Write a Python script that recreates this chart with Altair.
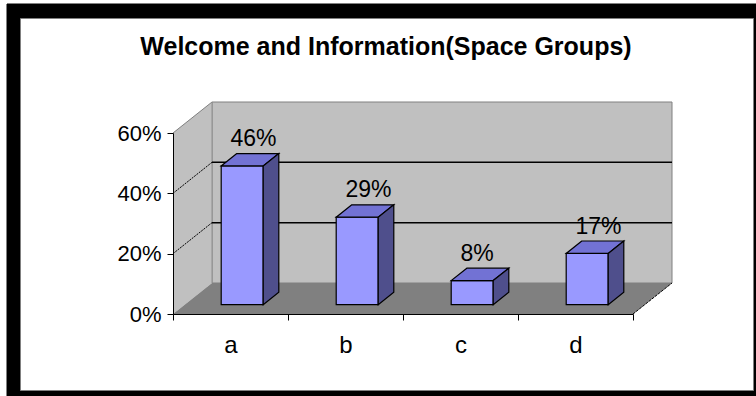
import altair as alt
import pandas as pd

# ---------------- data ----------------
categories = ["a", "b", "c", "d"]
values = [46, 29, 8, 17]            # percent
y_ticks = [0, 20, 40, 60]
grid_levels = [20, 40]
title_text = "Welcome and Information(Space Groups)"

# ---------------- geometry (data units) ----------------
N = len(categories)
Y_MAX = 60
PX_U = 115.0                 # pixels per category
PX_V = 181.0 / 60            # pixels per percent
DU = 39 / PX_U               # full depth, x shift
DV = 31 / PX_V               # full depth, y shift
BW = 42 / PX_U               # bar width
F0, F1 = 0.3, 0.7            # bar depth span
LABEL_GAP = 7.5 / PX_V

FONT = "Liberation Sans"


def U(px):
    return (px - 173) / PX_U


def V(py):
    return (314 - py) / PX_V


# frame (outer border)
frame = pd.DataFrame([
    {"x": U(7), "x2": U(770), "y": V(4), "y2": V(410), "f": "#000000", "s": "#000000"},
    {"x": U(20.5), "x2": U(753.5), "y": V(18.5), "y2": V(390.5), "f": "#ffffff", "s": "#808080"},
])

back_wall = pd.DataFrame([{"x": DU, "x2": N + DU, "y": DV, "y2": Y_MAX + DV}])
side_wall = pd.DataFrame([
    {"x": 0, "y": Y_MAX, "y2": 0},
    {"x": DU, "y": Y_MAX + DV, "y2": DV},
])
floor = pd.DataFrame([
    {"y": 0, "x": 0, "x2": N},
    {"y": DV, "x": DU, "x2": N + DU},
])
side_top = pd.DataFrame([{"x": 0, "y": Y_MAX}, {"x": DU, "y": Y_MAX + DV}])
back_left = pd.DataFrame([{"x": DU, "y": DV, "y2": Y_MAX + DV}])

grid_back = pd.DataFrame([{"x": DU, "x2": N + DU, "y": g + DV} for g in grid_levels])
grid_side = pd.DataFrame(
    [{"g": g, "x": 0, "y": g} for g in grid_levels]
    + [{"g": g, "x": DU, "y": g + DV} for g in grid_levels]
)
floor_edge = pd.DataFrame([{"x": N, "y": 0}, {"x": N + DU, "y": DV}])

fronts, tops, sides, labels = [], [], [], []
for i, (c, v) in enumerate(zip(categories, values)):
    xl = i + 0.5 - BW / 2 + F0 * DU
    xr = xl + BW
    ddu = (F1 - F0) * DU
    ddv = (F1 - F0) * DV
    yb = F0 * DV
    yt = v + F0 * DV
    fronts.append({"c": c, "x": xl, "x2": xr, "y": yb, "y2": yt})
    tops.append({"c": c, "y": yt, "x": xl, "x2": xr})
    tops.append({"c": c, "y": yt + ddv, "x": xl + ddu, "x2": xr + ddu})
    sides.append({"c": c, "x": xr, "y": yt, "y2": yb})
    sides.append({"c": c, "x": xr + ddu, "y": yt + ddv, "y2": yb + ddv})
    labels.append({"c": c, "x": i + 0.5, "y": v + F1 * DV + LABEL_GAP,
                   "t": f"{v}%"})

fronts = pd.DataFrame(fronts)
tops = pd.DataFrame(tops)
sides = pd.DataFrame(sides)
labels = pd.DataFrame(labels)

XS = alt.Scale(domain=[0, N], nice=False, zero=False)
YS = alt.Scale(domain=[0, Y_MAX], nice=False, zero=False)

label_expr = " : ".join(
    f"datum.value === {i + 0.5} ? '{c}'" for i, c in enumerate(categories)
) + " : ''"

x_axis = alt.Axis(
    values=[k * 0.5 for k in range(2 * N + 1)],
    labelExpr=label_expr,
    tickOpacity={"condition": {"test": "datum.value % 1 === 0", "value": 1}, "value": 0},
    tickSize=6, tickColor="#000000", domainColor="#000000",
    labelFont=FONT, labelFontSize=24, labelColor="#000000",
    labelBaseline="alphabetic", labelPadding=32,
    labelOverlap=False, labelFlush=False,
    title=None, grid=False, zindex=1,
)
y_axis = alt.Axis(
    values=y_ticks, labelExpr="datum.value + '%'",
    tickSize=6, tickColor="#000000", domainColor="#000000",
    labelFont=FONT, labelFontSize=22, labelColor="#000000",
    labelPadding=6, title=None, grid=False, zindex=1,
)


def xq(field="x"):
    return alt.X(f"{field}:Q", scale=XS, axis=x_axis)


def yq(field="y"):
    return alt.Y(f"{field}:Q", scale=YS, axis=y_axis)


frame_layer = alt.Chart(frame).mark_rect(clip=False, strokeWidth=1).encode(
    x=xq(), x2="x2:Q", y=yq(), y2="y2:Q",
    fill=alt.Fill("f:N", scale=None), stroke=alt.Stroke("s:N", scale=None),
)

back_layer = alt.Chart(back_wall).mark_rect(
    clip=False, fill="#c0c0c0", stroke="#808080", strokeWidth=1
).encode(x=xq(), x2="x2:Q", y=yq(), y2="y2:Q")

side_layer = alt.Chart(side_wall).mark_area(
    clip=False, fill="#c0c0c0", orient="vertical"
).encode(x=xq(), y=yq(), y2="y2:Q")

floor_layer = alt.Chart(floor).mark_area(
    clip=False, fill="#808080", orient="horizontal"
).encode(y=yq(), x=xq(), x2="x2:Q")

side_top_layer = alt.Chart(side_top).mark_line(
    clip=False, color="#808080", strokeWidth=1
).encode(x=xq(), y=yq())

back_left_layer = alt.Chart(back_left).mark_rule(
    clip=False, color="#909090", strokeWidth=1
).encode(x=xq(), y=yq(), y2="y2:Q")

grid_back_layer = alt.Chart(grid_back).mark_rule(
    clip=False, color="#000000", strokeWidth=1.5
).encode(x=xq(), x2="x2:Q", y=yq())

grid_side_layer = alt.Chart(grid_side).mark_line(
    clip=False, color="#000000", strokeWidth=1, strokeDash=[2, 1]
).encode(x=xq(), y=yq(), detail="g:N")

floor_edge_layer = alt.Chart(floor_edge).mark_line(
    clip=False, color="#000000", strokeWidth=1, strokeDash=[3, 1]
).encode(x=xq(), y=yq())

front_layer = alt.Chart(fronts).mark_rect(
    clip=False, fill="#9999ff", stroke="#000000", strokeWidth=1.2
).encode(x=xq(), x2="x2:Q", y=yq(), y2="y2:Q")

top_layer = alt.Chart(tops).mark_area(
    clip=False, fill="#7272d4", stroke="#000000", strokeWidth=1.2, orient="horizontal"
).encode(y=yq(), x=xq(), x2="x2:Q", detail="c:N")

side_bar_layer = alt.Chart(sides).mark_area(
    clip=False, fill="#4f4f8c", stroke="#000000", strokeWidth=1.2, orient="vertical"
).encode(x=xq(), y=yq(), y2="y2:Q", detail="c:N")

label_layer = alt.Chart(labels).mark_text(
    clip=False, font=FONT, fontSize=23, color="#000000",
    align="left", baseline="alphabetic",
).encode(x=xq(), y=yq(), text="t:N")

chart = alt.layer(
    frame_layer, back_layer, side_layer, floor_layer, side_top_layer,
    back_left_layer, grid_back_layer, grid_side_layer, floor_edge_layer,
    front_layer, top_layer, side_bar_layer, label_layer,
).properties(
    width=460, height=181,
    padding={"left": 173, "top": 133, "right": 123, "bottom": 82},
    autosize=alt.AutoSizeParams(type="none"),
    background="white",
    title=alt.TitleParams(
        text=title_text, font=FONT, fontSize=25, fontWeight="bold",
        color="#000000", anchor="middle", frame="group", dx=-17,
        baseline="alphabetic", offset=-76,
    ),
).configure_view(stroke=None)

chart.save("out.html", embed_options={"renderer": "svg", "actions": False})
